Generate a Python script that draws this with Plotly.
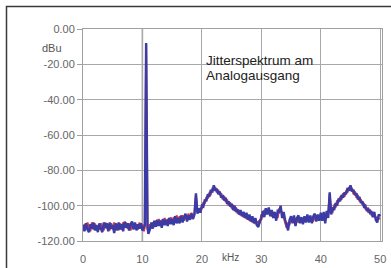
import plotly.graph_objects as go

# ---- data ----
freq_khz = [
    0, 0.25, 0.5, 0.75, 1, 1.25, 1.5, 1.75, 2, 2.25, 2.5, 2.75, 3, 3.25, 3.5, 3.75,
    4, 4.25, 4.5, 4.75, 5, 5.25, 5.5, 5.75, 6, 6.25, 6.5, 6.75, 7, 7.25, 7.5, 7.75,
    8, 8.25, 8.5, 8.75, 9, 9.25, 9.5, 9.75, 10, 10.25,
    10.4, 10.62, 10.85,
    11, 11.25, 11.5, 11.75, 12, 12.25, 12.5, 12.75, 13, 13.25, 13.5, 13.75,
    14, 14.25, 14.5, 14.75, 15, 15.25, 15.5, 15.75, 16, 16.25, 16.5, 16.75,
    17, 17.25, 17.5, 17.75, 18, 18.25, 18.5, 18.75, 19, 19.25, 19.5, 19.75,
    20, 20.25, 20.5, 20.75, 21, 21.25, 21.5, 21.75, 22, 22.25, 22.5, 22.75,
    23, 23.25, 23.5, 23.75, 24, 24.25, 24.5, 24.75, 25, 25.25, 25.5, 25.75,
    26, 26.25, 26.5, 26.75, 27, 27.25, 27.5, 27.75, 28, 28.25, 28.5, 28.75,
    29, 29.25, 29.5, 29.75, 30, 30.25, 30.5, 30.75, 31, 31.25, 31.5, 31.75,
    32, 32.25, 32.5, 32.75, 33, 33.25, 33.5, 33.75, 34, 34.25, 34.5, 34.75,
    35, 35.25, 35.5, 35.75, 36, 36.25, 36.5, 36.75, 37, 37.25, 37.5, 37.75,
    38, 38.25, 38.5, 38.75, 39, 39.25, 39.5, 39.75, 40, 40.25, 40.5, 40.75,
    41, 41.25, 41.5, 41.75, 42, 42.25, 42.5, 42.75, 43, 43.25, 43.5, 43.75,
    44, 44.25, 44.5, 44.75, 45, 45.25, 45.5, 45.75, 46, 46.25, 46.5, 46.75,
    47, 47.25, 47.5, 47.75, 48, 48.25, 48.5, 48.75, 49, 49.25, 49.5, 49.75,
    50]

blue_dbu = [
    -111, -114.5, -110, -113.5, -115, -110.5, -113, -109.5, -114, -111, -115, -110,
    -113, -115, -109.5, -112.5, -110, -114.5, -109.5, -113, -111, -115.5, -110, -114,
    -109.5, -113.5, -110.5, -114.5, -109, -112.5, -110, -114, -110.5, -109, -113.5, -109.5,
    -114, -110.5, -113, -110, -114, -112,
    -111, -8, -112,
    -116, -113.5, -109.5, -113, -108.5, -112, -108, -111.5, -108.5, -112.5, -107.5, -111,
    -108, -111.5, -107, -110.5, -107.5, -111, -106, -110, -107, -110, -105.5, -109.5,
    -106.5, -104.5, -109, -105.5, -108, -104.5, -107.5, -105,
    -93, -104.5, -101.5, -104,
    -100, -100.5, -96.5, -97.5, -93.5, -95, -91, -92.5, -88.5, -91.5, -90.5, -93.5,
    -92, -95.5, -94, -97, -95.5, -99, -97.5, -100.5, -99, -102.5, -100, -103.5,
    -102, -105, -102.5, -106, -103.5, -107, -104, -108, -105, -109, -106, -110,
    -107, -111, -112, -108.5,
    -107.5, -103, -106.5, -101.5, -105, -101, -106, -102.5,
    -107, -103.5, -108.5, -103, -103.5, -100, -107, -103.5, -108, -110.5, -114, -108,
    -106, -110, -105.5, -111.5, -107, -105.5, -110, -106.5, -110.5, -106, -109.5, -105,
    -109.5, -105.5, -110, -106, -104.5, -109, -105, -108.5,
    -104, -108.5, -103.5, -110,
    -103, -107, -92.5, -105,
    -101, -102.5, -98.5, -100, -96, -97.5, -94, -95.5,
    -92.5, -93.5, -90, -91.5, -88.5, -92, -91, -94, -93, -96.5, -95, -98.5,
    -97.5, -100.5, -100, -103, -102, -104, -103, -106.5, -103.5, -108, -109.5, -105,
    -106]

red_dbu = [
    -114, -110.5, -112.5, -109.5, -112, -114.5, -109.5, -113.5, -110, -114, -111.5, -113.5,
    -110, -112, -114, -109.5, -113, -110.5, -114, -110, -113.5, -109.5, -112.5, -110.5,
    -114, -110, -113.5, -109.5, -112.5, -109.5, -113, -110, -114, -111, -110, -113,
    -110.5, -113.5, -109.5, -112.5, -110.5, -114.5,
    -112, -9, -113,
    -113, -110.5, -113, -109.5, -111.5, -108.5, -111.5, -107.5, -111, -108, -110.5, -107,
    -110.5, -107.5, -110, -106.5, -109.5, -106.5, -109, -105.5, -108.5, -106, -108.5, -105.5,
    -108.5, -106, -107.5, -104.5, -107, -104, -107.5, -104.5,
    -94, -103, -103.5, -101.5,
    -101.5, -98, -99, -95, -96, -93, -93.5, -90.5, -91, -89.5, -92.5, -91,
    -94, -93, -96.5, -94.5, -98, -96.5, -100, -98, -101.5, -99.5, -103, -101,
    -104.5, -102.5, -105.5, -104, -106.5, -105, -107.5, -106, -108.5, -107, -109.5, -107.5,
    -110, -109.5, -109, -110,
    -105, -106, -102.5, -105, -102, -104.5, -103.5, -105.5,
    -104.5, -106, -105.5, -107, -101.5, -102.5, -104, -106.5, -109.5, -112.5, -110, -110.5,
    -108.5, -107.5, -109, -108, -108, -109.5, -107.5, -108.5, -108, -108.5, -107, -107.5,
    -107, -108, -107.5, -108.5, -107, -106.5, -107.5, -106,
    -106.5, -105.5, -107, -107,
    -106, -104.5, -93.5, -103,
    -103.5, -99.5, -101, -97, -98, -95, -96.5, -93,
    -95, -91.5, -92.5, -89.5, -91, -90, -93.5, -92, -95.5, -94, -97.5, -96.5,
    -99.5, -98.5, -102, -101, -104, -102, -105, -104.5, -106, -106.5, -107, -107.5,
    -107]

y_ticks = [0, -20, -40, -60, -80, -100, -120]
x_ticks = [0, 10, 20, 30, 40, 50]

# ---- layout helpers (pixel -> paper) ----
W, H = 391, 268
L, R, T, B = 83, 382, 29, 241
def px(xp):
    return (xp - L) / (R - L)
def py(yp):
    return (B - yp) / (B - T)

fig = go.Figure()
fig.add_trace(go.Scatter(x=freq_khz, y=red_dbu, mode="lines",
                         line=dict(color="#e0393e", width=2), showlegend=False))
fig.add_trace(go.Scatter(x=freq_khz, y=blue_dbu, mode="lines",
                         line=dict(color="#3b3ba6", width=2.4), showlegend=False))

font_name = "Liberation Sans, Arial, sans-serif"
fig.update_layout(
    width=W, height=H,
    margin=dict(l=L, r=W - R, t=T, b=H - B, pad=0),
    paper_bgcolor="white", plot_bgcolor="white",
    font=dict(family=font_name, size=11, color="#555555"),
    xaxis=dict(range=[0, 50.3], tickvals=x_ticks, ticktext=[str(v) for v in x_ticks],
               showgrid=True, gridcolor="#a8a8a8", gridwidth=1,
               showline=True, linecolor="#a0a0a0", linewidth=1, mirror=True,
               ticks="", ticklabelstandoff=8, zeroline=False, automargin=False,
               tickfont=dict(size=11, color="#666666")),
    yaxis=dict(range=[-120, 0], tickvals=y_ticks, ticktext=["%.2f" % v for v in y_ticks],
               showgrid=True, gridcolor="#a8a8a8", gridwidth=1,
               showline=True, linecolor="#a0a0a0", linewidth=1, mirror=True,
               ticks="outside", ticklen=5, tickcolor="#a0a0a0", zeroline=False,
               automargin=False,
               tickfont=dict(size=11, color="#666666")),
    shapes=[
        dict(type="line", xref="x", yref="paper", x0=10, x1=10, y0=0, y1=1,
             line=dict(color="#444444", width=1.3), layer="below"),
        dict(type="rect", xref="paper", yref="paper",
             x0=px(6.5), x1=px(400), y0=py(6.5), y1=py(280),
             line=dict(color="#3a3a3a", width=1.5)),
    ],
    annotations=[
        dict(text="Jitterspektrum am", xref="paper", yref="paper",
             x=px(204), y=py(51), xanchor="left", yanchor="top", showarrow=False,
             align="left", font=dict(family=font_name, size=13.5, color="#222222")),
        dict(text="Analogausgang", xref="paper", yref="paper",
             x=px(204), y=py(66), xanchor="left", yanchor="top", showarrow=False,
             align="left", font=dict(family=font_name, size=13.5, color="#222222")),
        dict(text="dBu", xref="paper", yref="paper", x=px(52), y=py(48),
             xanchor="center", yanchor="middle", showarrow=False,
             font=dict(family=font_name, size=11, color="#555555")),
        dict(text="kHz", xref="paper", yref="paper", x=px(230), y=py(257),
             xanchor="center", yanchor="middle", showarrow=False,
             font=dict(family=font_name, size=10, color="#555555")),
    ],
)

fig.write_html("out.html", post_script="document.body.style.margin='0';",
               config={"displayModeBar": False})
